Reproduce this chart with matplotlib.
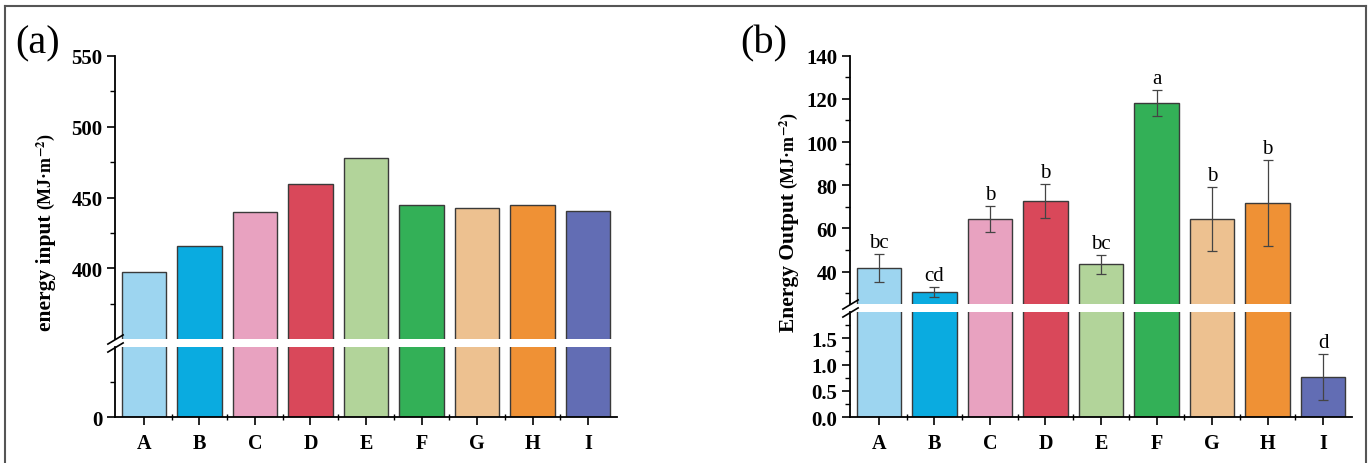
import matplotlib
matplotlib.use("Agg")
import matplotlib.pyplot as plt
from matplotlib.lines import Line2D
import numpy as np

# data
categories = ["A", "B", "C", "D", "E", "F", "G", "H", "I"]
colors = ["#9DD5F0", "#0AABE0", "#E8A2C0", "#D9485A", "#B2D49A",
          "#33B057", "#EDC190", "#EF9135", "#626DB4"]

energy_input = [397.0, 416.0, 439.5, 459.5, 478.0, 445.0, 442.7, 444.4, 440.8]

energy_output = [41.7, 30.4, 64.3, 72.7, 43.4, 118.3, 64.3, 71.7, 0.76]
output_err = [6.3, 2.3, 6.0, 8.0, 4.3, 6.0, 14.7, 19.8, 0.44]
output_letters = ["bc", "cd", "b", "b", "bc", "a", "b", "b", "d"]

W, H = 1368, 464
plt.rcParams["font.family"] = ["Liberation Serif", "DejaVu Serif"]
plt.rcParams["mathtext.fontset"] = "stix"

fig = plt.figure(figsize=(W / 100, H / 100), dpi=100)


def px_axes(left, right, top, bottom):
    """Create axes from pixel coordinates of the reference."""
    return fig.add_axes([left / W, 1 - bottom / H, (right - left) / W, (bottom - top) / H])


def style_axes(ax, is_top):
    ax.set_xlim(-0.52, 8.52)
    ax.spines["right"].set_visible(False)
    ax.spines["top"].set_visible(False)
    for s in ax.spines.values():
        s.set_linewidth(1.3)
    ax.tick_params(axis="y", which="major", direction="out", length=6, width=1.2,
                   labelsize=15, pad=3)
    ax.tick_params(axis="y", which="minor", direction="out", length=3.5, width=1.0)
    for lab in ax.get_yticklabels():
        lab.set_fontweight("bold")
    if is_top:
        ax.spines["bottom"].set_visible(False)
        ax.tick_params(axis="x", which="both", bottom=False, labelbottom=False)
    else:
        ax.set_xticks(np.arange(len(categories)))
        ax.set_xticklabels(categories, fontsize=14.5, fontweight="bold")
        ax.set_xticks(np.arange(len(categories) - 1) + 0.5, minor=True)
        ax.tick_params(axis="x", which="major", direction="out", length=6, width=1.2, pad=5)
        ax.tick_params(axis="x", which="minor", direction="inout", length=4, width=1.0)


def break_marks(ax_top, ax_bot):
    kw = dict(marker=[(-1, -0.6), (1, 0.6)], markersize=12, linestyle="none",
              color="k", mec="k", mew=1.2, clip_on=False)
    ax_top.plot([0], [0], transform=ax_top.transAxes, **kw)
    ax_bot.plot([0], [1], transform=ax_bot.transAxes, **kw)


def ylabel(xp, y_bottom, name):
    """Rotated label: bold name, then a smaller unit part right above it."""
    t1 = fig.text(xp / W, 1 - y_bottom / H, name, rotation=90, ha="center", va="bottom",
                  fontsize=15.5, fontweight="bold")
    fig.canvas.draw()
    top = t1.get_window_extent().y1 + 4
    fig.text(xp / W, top / H, "(MJ·m$^{\\mathbf{-2}}$)", rotation=90,
             ha="center", va="bottom", fontsize=13, fontweight="bold")


x = np.arange(len(categories))
bar_kw = dict(width=0.8, edgecolor="#3a3a3a", linewidth=1.0)

# ---- panel (a)
a_top = px_axes(115, 617, 57, 340)
a_bot = px_axes(115, 617, 347.7, 418.3)
for ax in (a_top, a_bot):
    ax.bar(x, energy_input, color=colors, **bar_kw)
a_top.set_ylim(350, 550)
a_top.set_yticks([400, 450, 500, 550])
a_top.set_yticks([375, 425, 475, 525], minor=True)
a_bot.set_ylim(0, 50)
a_bot.set_yticks([0])
a_bot.set_yticks([25], minor=True)
style_axes(a_top, True)
style_axes(a_bot, False)
break_marks(a_top, a_bot)

# ---- panel (b)
b_top = px_axes(850, 1352, 56.7, 305)
b_bot = px_axes(850, 1352, 312.7, 418.3)
err_kw = dict(ecolor="#444444", elinewidth=0.9, capsize=3.5, capthick=0.9)
for ax in (b_top, b_bot):
    ax.bar(x, energy_output, color=colors, yerr=output_err, error_kw=err_kw, **bar_kw)
b_top.set_ylim(25, 140)
b_top.set_yticks(np.arange(40, 141, 20))
b_top.set_yticks(np.arange(30, 131, 20), minor=True)
b_bot.set_ylim(0, 2.0)
b_bot.set_yticks([0, 0.5, 1.0, 1.5])
b_bot.set_yticklabels(["0.0", "0.5", "1.0", "1.5"])
b_bot.set_yticks([0.25, 0.75, 1.25, 1.75], minor=True)
style_axes(b_top, True)
style_axes(b_bot, False)
break_marks(b_top, b_bot)

for xi, v, e, lab in zip(x, energy_output, output_err, output_letters):
    ax = b_bot if v < 2 else b_top
    ax.annotate(lab, (xi, v + e), xytext=(0, 1.5), textcoords="offset points",
                ha="center", va="bottom", fontsize=15)

# ---- labels
ylabel(46, 331, "energy input")
ylabel(789, 332, "Energy Output")
fig.text(15 / W, 1 - 44 / H, "(a)", fontsize=29, ha="left", va="center")
fig.text(740 / W, 1 - 44 / H, "(b)", fontsize=29, ha="left", va="center")

# ---- outer frame of the image
frame_kw = dict(color="#555555", linewidth=1.5, transform=fig.transFigure)
fig.add_artist(Line2D([5 / W, 5 / W], [0, 1 - 6.5 / H], **frame_kw))
fig.add_artist(Line2D([5 / W, 1365.5 / W], [1 - 6.5 / H, 1 - 6.5 / H], **frame_kw))
fig.add_artist(Line2D([1365.5 / W, 1365.5 / W], [0, 1 - 6.5 / H], **frame_kw))

fig.savefig("out.png", dpi=100)
